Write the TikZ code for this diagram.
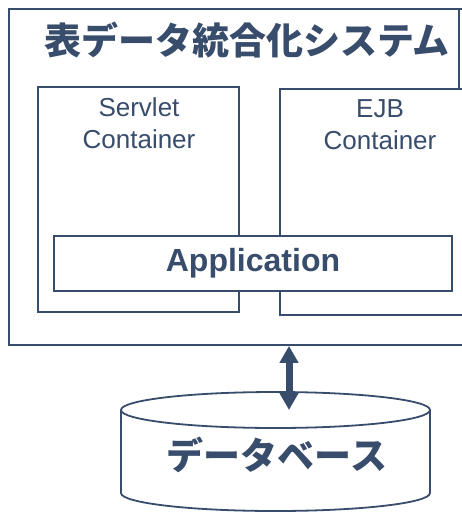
\documentclass[tikz,border=0pt]{standalone}
\usepackage{fontspec}
\setmainfont{Liberation Sans}
\newfontfamily\jp{Noto Sans CJK JP}
\usetikzlibrary{arrows.meta}
\definecolor{ink}{RGB}{56,76,108}
\tikzset{
  box/.style={draw=ink, line width=1.8pt, fill=white, inner sep=0pt},
  lbl/.style={text=ink, inner sep=0pt, align=center},
  conn/.style={draw=ink, line width=7pt, {Triangle[width=18pt,length=17pt]}-{Triangle[width=18pt,length=17pt]}}
}
\begin{document}
\begin{tikzpicture}[x=1pt,y=-1pt]
\useasboundingbox (0,0) rectangle (461,516);
% outer system box
\node[box, minimum width=466pt, minimum height=336pt] (sys) at (242,177) {};
\draw[ink, line width=1.8pt] (459,9) -- (459,92);
\node[lbl, font=\jp\bfseries\fontsize{37}{40}\selectfont] (title) at (247,40) {表データ統合化システム};
% containers
\node[box, minimum width=201pt, minimum height=225pt] (servlet) at (138.5,199.5) {};
\node[box, minimum width=200pt, minimum height=226pt] (ejb) at (380,202) {};
\node[lbl, font=\fontsize{26}{32}\selectfont] (servlett) at (139,123) {Servlet\\Container};
\node[lbl, font=\fontsize{26}{32}\selectfont] (ejbt) at (380,125) {EJB\\Container};
% application
\node[box, minimum width=398pt, minimum height=55pt, text=ink, font=\bfseries\fontsize{32}{36}\selectfont] (app) at (253,263.5) {Application};
% database cylinder
\draw[ink, line width=1.8pt, fill=white] (121,410) -- (121,493) arc[start angle=180, end angle=360, x radius=154.5pt, y radius=18pt] -- (430,410);
\draw[ink, line width=1.8pt] (275.5,410) ellipse[x radius=154.5pt, y radius=18pt];
\node[lbl, font=\jp\bfseries\fontsize{37}{40}\selectfont] (db) at (277,455) {データベース};
\coordinate (dbtop) at (289,410);
\draw[conn] (sys.south -| dbtop) -- (dbtop);
\end{tikzpicture}
\end{document}
